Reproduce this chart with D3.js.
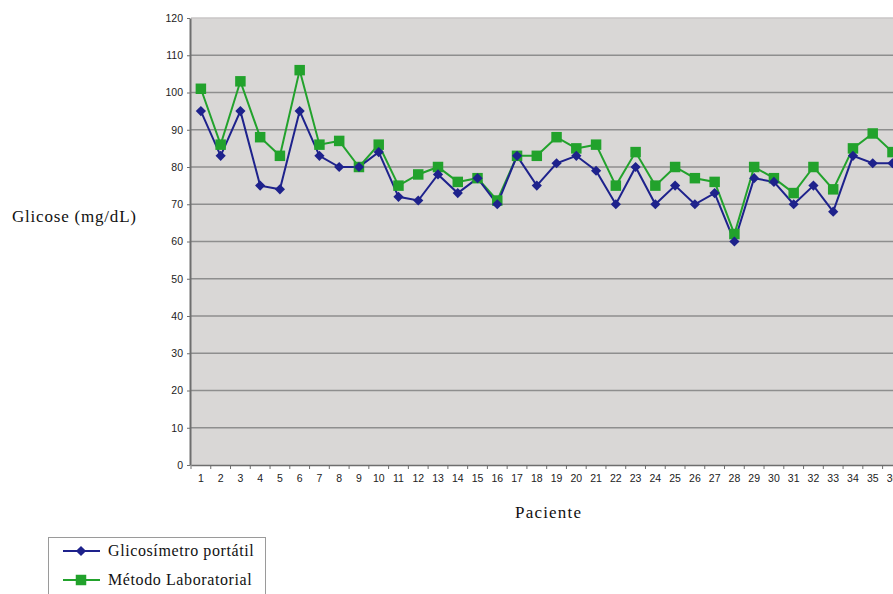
<!DOCTYPE html>
<html>
<head>
<meta charset="utf-8">
<script src="https://cdn.jsdelivr.net/npm/d3@7"></script>
<style>
  body { margin: 0; background: #fff; }
  svg { display: block; }
  .tick text { font-family: "Liberation Sans", Arial, sans-serif; font-size: 10.5px; fill: #222; }
  .title { font-family: "Liberation Serif", "Times New Roman", serif; font-size: 17px; fill: #111; }
  .leg { font-family: "Liberation Serif", "Times New Roman", serif; font-size: 16px; fill: #111; letter-spacing: 0.6px; }
</style>
</head>
<body>
<div id="chart"></div>
<script>
// Patients 1..36
const pacientes = d3.range(1, 37).map(String);

// Glicosimetro portatil (mg/dL)
const glicosimetro = [95, 83, 95, 75, 74, 95, 83, 80, 80, 84, 72, 71, 78, 73, 77, 70, 83, 75,
  81, 83, 79, 70, 80, 70, 75, 70, 73, 60, 77, 76, 70, 75, 68, 83, 81, 81];

// Metodo Laboratorial (mg/dL)
const laboratorial = [101, 86, 103, 88, 83, 106, 86, 87, 80, 86, 75, 78, 80, 76, 77, 71, 83, 83,
  88, 85, 86, 75, 84, 75, 80, 77, 76, 62, 80, 77, 73, 80, 74, 85, 89, 84];

const yTicks = [0, 10, 20, 30, 40, 50, 60, 70, 80, 90, 100, 110, 120];

const W = 893, H = 594;
const plotLeft = 191, plotTop = 18, plotBottom = 465;
const band = 19.76;

const svg = d3.select("#chart").append("svg")
  .attr("width", W).attr("height", H);

const x = d3.scaleBand()
  .domain(pacientes)
  .range([plotLeft, plotLeft + band * pacientes.length])
  .paddingInner(0).paddingOuter(0);

const y = d3.scaleLinear()
  .domain([0, 120])
  .range([plotBottom, plotTop]);

const cx = d => x(d) + x.bandwidth() / 2;

// plot background
svg.append("rect")
  .attr("x", plotLeft).attr("y", plotTop)
  .attr("width", x.range()[1] - plotLeft).attr("height", plotBottom - plotTop)
  .attr("fill", "#d9d7d6");

// gridlines
svg.append("g")
  .selectAll("line")
  .data(yTicks.filter(v => v > 0))
  .enter().append("line")
  .attr("x1", plotLeft).attr("x2", x.range()[1])
  .attr("y1", d => y(d)).attr("y2", d => y(d))
  .attr("stroke", d => d === 120 ? "#c8c6c6" : "#8e8e8e")
  .attr("stroke-width", 1.5);

// y axis
const yAxis = svg.append("g")
  .attr("class", "y-axis")
  .attr("transform", `translate(${plotLeft - 1},0)`)
  .call(d3.axisLeft(y).tickValues(yTicks).tickSize(3).tickSizeOuter(0).tickPadding(4));
yAxis.select(".domain").attr("stroke", "#6e6e6e").attr("stroke-width", 2);
yAxis.selectAll(".tick line").attr("stroke", "#6e6e6e");

// x axis
const xAxis = svg.append("g")
  .attr("class", "x-axis")
  .attr("transform", `translate(0,${plotBottom})`)
  .call(d3.axisBottom(x).tickSize(0).tickPadding(10));
xAxis.select(".domain").attr("stroke", "#6e6e6e").attr("stroke-width", 1.5);

// small tick marks at the category boundaries
svg.append("g")
  .selectAll("line")
  .data(pacientes)
  .enter().append("line")
  .attr("x1", d => x(d)).attr("x2", d => x(d))
  .attr("y1", plotBottom).attr("y2", plotBottom + 4)
  .attr("stroke", "#6e6e6e");

// series
const series = [
  { name: "Glicosímetro portátil", values: glicosimetro, color: "#1e228c", rot: 45, size: 52 },
  { name: "Método Laboratorial", values: laboratorial, color: "#22a22c", rot: 0, size: 110 }
];

const line = d3.line()
  .x((d, i) => cx(pacientes[i]))
  .y(d => y(d));

[series[1], series[0]].forEach(s => {
  svg.append("path")
    .datum(s.values)
    .attr("fill", "none")
    .attr("stroke", s.color)
    .attr("stroke-width", 2)
    .attr("d", line);
});

[series[1], series[0]].forEach(s => {
  svg.append("g")
    .selectAll("path")
    .data(s.values)
    .enter().append("path")
    .attr("transform", (d, i) => `translate(${cx(pacientes[i])},${y(d)}) rotate(${s.rot})`)
    .attr("d", d3.symbol().type(d3.symbolSquare).size(s.size))
    .attr("fill", s.color);
});

// axis titles
svg.append("text")
  .attr("class", "title")
  .attr("x", 12).attr("y", 222)
  .attr("textLength", 124)
  .text("Glicose (mg/dL)");

svg.append("text")
  .attr("class", "title")
  .attr("x", 548).attr("y", 518)
  .attr("text-anchor", "middle")
  .attr("textLength", 66)
  .text("Paciente");

// legend
const legend = svg.append("g").attr("transform", "translate(48,537)");
legend.append("rect")
  .attr("x", 0.5).attr("y", 0.5)
  .attr("width", 217).attr("height", 64)
  .attr("fill", "#fff").attr("stroke", "#9a9a9a");

series.forEach((s, i) => {
  const ly = 14 + i * 29;
  legend.append("line")
    .attr("x1", 15).attr("x2", 52)
    .attr("y1", ly).attr("y2", ly)
    .attr("stroke", s.color).attr("stroke-width", 2);
  legend.append("path")
    .attr("transform", `translate(33,${ly}) rotate(${s.rot})`)
    .attr("d", d3.symbol().type(d3.symbolSquare).size(s.size))
    .attr("fill", s.color);
  legend.append("text")
    .attr("class", "leg")
    .attr("x", 60).attr("y", ly + 5)
    .text(s.name);
});
</script>
</body>
</html>
